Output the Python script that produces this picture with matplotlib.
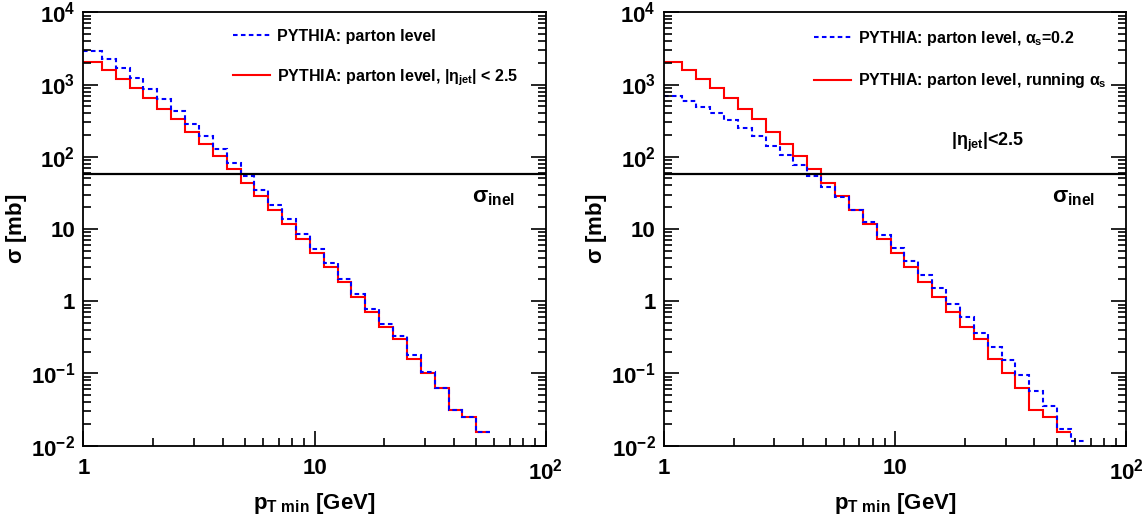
import math
import matplotlib
matplotlib.use('Agg')
import matplotlib.pyplot as plt
from matplotlib.ticker import LogLocator, FixedLocator, FuncFormatter, NullFormatter
from matplotlib.lines import Line2D

plt.rcParams['font.family'] = ['Liberation Sans', 'DejaVu Sans']
plt.rcParams['font.weight'] = 'bold'
plt.rcParams['axes.labelweight'] = 'bold'
plt.rcParams['mathtext.fontset'] = 'custom'
plt.rcParams['mathtext.rm'] = 'Liberation Sans:bold'
plt.rcParams['mathtext.bf'] = 'Liberation Sans:bold'
plt.rcParams['mathtext.it'] = 'Liberation Sans'

# bin edges in pT min [GeV]
edges = [1.0, 1.202, 1.380, 1.585, 1.820, 2.089, 2.399, 2.754, 3.162, 3.631,
         4.169, 4.786, 5.495, 6.310, 7.244, 8.318, 9.550, 10.96, 12.59, 14.45,
         16.60, 19.05, 21.88, 25.12, 28.84, 33.11, 38.02, 43.65, 50.12, 57.54,
         66.07]

# left: parton level, |eta_jet| < 2.5 (also running alpha_s on the right)
red_eta = [2032, 1574, 1194, 888, 651, 463, 330, 222, 152, 102.5,
           67.7, 43.8, 28.4, 18.3, 11.7, 7.34, 4.66, 2.95, 1.85, 1.16,
           0.71, 0.444, 0.297, 0.158, 0.1005, 0.0623, 0.0312, 0.0247, 0.0156]

# left: parton level, no eta cut
blue_all = [2914, 2280, 1694, 1244, 877, 625, 431, 287, 192, 129,
            82.8, 54.2, 35.0, 21.7, 13.8, 8.61, 5.28, 3.42, 2.05, 1.27,
            0.788, 0.480, 0.330, 0.180, 0.1047, 0.0623, 0.0312, 0.0247, 0.0156]

# right: parton level, alpha_s = 0.2
blue_fixed = [687, 592, 493, 404, 326, 253, 192, 142, 106, 76.3,
              54.2, 38.2, 27.5, 18.3, 12.4, 8.26, 5.46, 3.64, 2.33, 1.51,
              0.916, 0.605, 0.366, 0.232, 0.155, 0.0953, 0.0571, 0.0358, 0.0169,
              0.0117]

sigma_inel = 58.0

fig = plt.figure(figsize=(11.46, 5.18), dpi=100)
ax1 = fig.add_axes([0.0727, 0.1396, 0.4035, 0.8367])
ax2 = fig.add_axes([0.5794, 0.1396, 0.4035, 0.8367])

dash = (0, (2.2, 1.6))


def tick_fmt(v, pos):
    if abs(v - 1) < 1e-9:
        return '1'
    if abs(v - 10) < 1e-9:
        return '10'
    e = int(round(math.log10(v)))
    return r'$\mathbf{10^{%d}}$' % e


def style_axes(ax):
    ax.set_xscale('log')
    ax.set_yscale('log')
    ax.set_xlim(1, 100)
    ax.set_ylim(1e-2, 1e4)
    ax.yaxis.set_major_locator(FixedLocator([1e-2, 1e-1, 1, 10, 1e2, 1e3, 1e4]))
    ax.yaxis.set_minor_locator(LogLocator(base=10, subs=range(2, 10), numticks=20))
    ax.xaxis.set_major_locator(FixedLocator([1, 10, 100]))
    ax.xaxis.set_minor_locator(LogLocator(base=10, subs=range(2, 10), numticks=20))
    ax.yaxis.set_major_formatter(FuncFormatter(tick_fmt))
    ax.xaxis.set_major_formatter(FuncFormatter(tick_fmt))
    ax.yaxis.set_minor_formatter(NullFormatter())
    ax.xaxis.set_minor_formatter(NullFormatter())
    ax.tick_params(which='both', direction='in', top=False, right=True,
                   width=1.2, labelsize=16)
    ax.tick_params(which='major', length=11)
    ax.tick_params(which='minor', length=5.5)
    ax.tick_params(axis='y', which='major', pad=6)
    ax.tick_params(axis='x', which='major', pad=9)
    for s in ax.spines.values():
        s.set_linewidth(1.3)
    ax.set_xlabel(r'p$_{\mathrm{T\ min}}$ [GeV]', fontsize=16)
    ax.set_ylabel(r'$\sigma$ [mb]', fontsize=16)
    ax.xaxis.set_label_coords(0.5, -0.105)
    ax.yaxis.set_label_coords(-0.118, 0.5)
    ax.axhline(sigma_inel, color='black', lw=1.6)
    ax.text(0.84, 0.572, r'$\sigma_{\mathrm{inel}}$', transform=ax.transAxes,
            fontsize=16, va='center', ha='left')


h_blue = Line2D([], [], color='blue', lw=1.5, linestyle=dash)
h_red = Line2D([], [], color='red', lw=1.5)
leg_kw = dict(loc='upper left', bbox_to_anchor=(0.307, 0.98), frameon=False,
              fontsize=11.5, handlelength=2.3, handletextpad=0.45,
              labelspacing=1.45, borderpad=0)

style_axes(ax1)
ax1.stairs(red_eta, edges[:len(red_eta) + 1], baseline=None, color='red', lw=1.5)
ax1.stairs(blue_all, edges[:len(blue_all) + 1], baseline=None, color='blue',
           lw=1.5, linestyle=dash)
ax1.legend([h_blue, h_red],
           ['PYTHIA: parton level',
            r'PYTHIA: parton level, |$\eta_{\mathrm{jet}}$| < 2.5'], **leg_kw)

style_axes(ax2)
ax2.stairs(red_eta, edges[:len(red_eta) + 1], baseline=None, color='red', lw=1.5)
ax2.stairs(blue_fixed, edges[:len(blue_fixed) + 1], baseline=None, color='blue',
           lw=1.5, linestyle=dash)
ax2.legend([h_blue, h_red],
           [r'PYTHIA: parton level, $\alpha_{\mathrm{s}}$=0.2',
            r'PYTHIA: parton level, running $\alpha_{\mathrm{s}}$'], **leg_kw)
ax2.text(0.62, 0.70, r'|$\eta_{\mathrm{jet}}$|<2.5', transform=ax2.transAxes,
         fontsize=13, va='center', ha='left')

fig.savefig('out.png', dpi=100)
